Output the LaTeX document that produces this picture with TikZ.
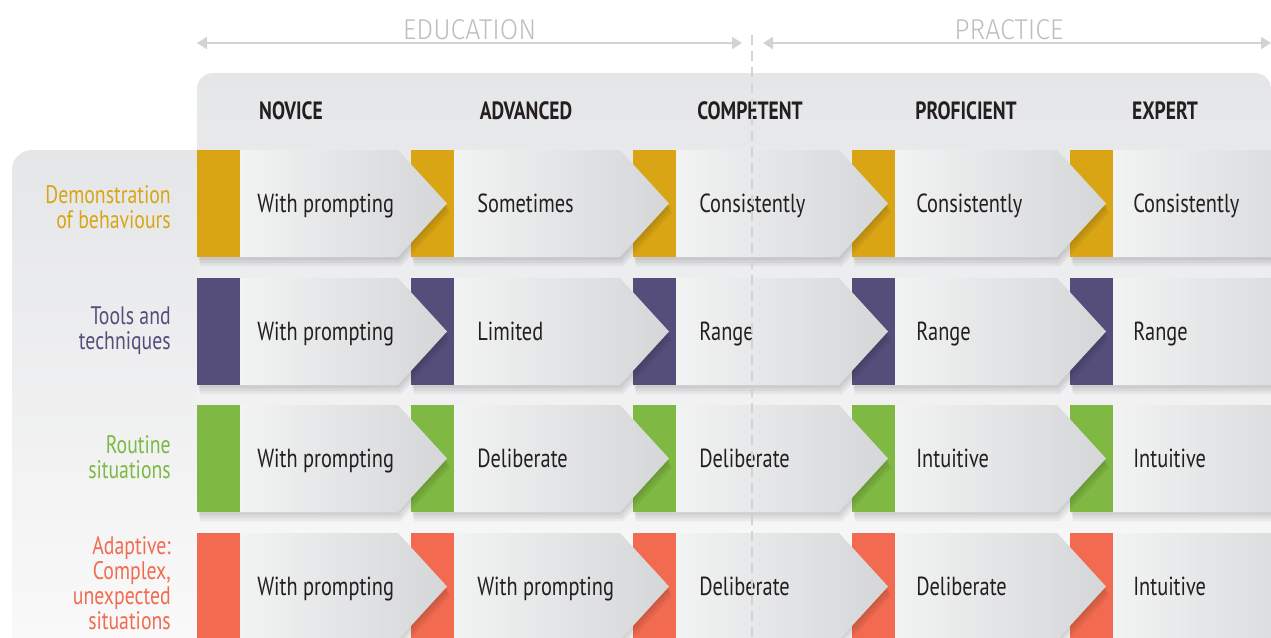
\documentclass[tikz,border=0pt]{standalone}
\usepackage{fontspec}
\setmainfont[FakeStretch=0.78]{PT Sans}
\newfontfamily\thinfont[FakeStretch=0.93]{Fira Sans Light}
\usepackage{xcolor}
\usetikzlibrary{arrows.meta}

\definecolor{behav}{HTML}{D9A514}
\definecolor{tools}{HTML}{554E7B}
\definecolor{routine}{HTML}{7FB842}
\definecolor{adapt}{HTML}{F26B50}
\definecolor{ink}{HTML}{231F20}
\definecolor{rule}{HTML}{D1D3D4}
\definecolor{faint}{HTML}{BCBEC0}
\definecolor{cellL}{HTML}{F2F3F3}
\definecolor{cellR}{HTML}{D4D6D8}
\definecolor{panelT}{HTML}{E5E6E8}
\definecolor{panelB}{HTML}{FAFAFA}

\begin{document}
\begin{tikzpicture}[x=0.75pt,y=-0.75pt,
        phase/.style={font=\thinfont\fontsize{21.5}{21.5}\selectfont, text=faint, anchor=base, inner sep=0pt},
        stage/.style={font=\bfseries\fontsize{18.75}{18.75}\selectfont, text=ink, anchor=base, inner sep=0pt},
        celltext/.style={font=\fontsize{19.6}{19.6}\selectfont, text=ink, anchor=base west, inner sep=0pt},
        rowlabel/.style={font=\fontsize{19}{18.75}\selectfont, align=right, anchor=east, inner sep=0pt},
        span/.style={draw=rule, line width=1.5pt, {Triangle[length=7.5pt,width=9pt]}-{Triangle[length=7.5pt,width=9pt]}}]
        \useasboundingbox (0,0) rectangle (1271,637);
        \clip (0,0) rectangle (1271,637);

        % grey panels behind the labels and the stages
        \shade[top color=panelT, bottom color=panelB, rounded corners=15] (12,660) -- (12,150) -- (215,150) -- (215,660) -- cycle;
        \shade[top color=panelT, bottom color=panelB, rounded corners=12] (197,660) -- (197,73) -- (1271,73) -- (1271,660) -- cycle;

        % education / practice spans
        \coordinate (eduL) at (197,43);
        \coordinate (eduR) at (742,43);
        \coordinate (pracL) at (763,43);
        \coordinate (pracR) at (1271,43);
        \draw[span] (eduL) -- (eduR);
        \draw[span] (pracL) -- (pracR);
        \node[phase] (edu) at (469.5,39) {EDUCATION};
        \node[phase] (prac) at (1009,39) {PRACTICE};

        % stage headings
        \node[stage] (novice) at (291,119) {NOVICE};
        \node[stage] (advanced) at (526,119) {ADVANCED};
        \node[stage] (competent) at (750,119) {COMPETENT};
        \node[stage] (proficient) at (966,119) {PROFICIENT};
        \node[stage] (expert) at (1165,119) {EXPERT};

        % row 1: demonstration of behaviours
        \foreach \n/\x/\nx/\tx/\txt in {5/1070/1288/1133/Consistently, 4/852/1070/916/Consistently, 3/633/852/699/Consistently, 2/411/633/477/Sometimes, 1/197/411/257/With prompting}{
            \foreach \s in {1,2,3}
                \fill[black, opacity=0.05, shift={(\s,3*\s)}] (\x,150) -- (\nx-13,150) -- (\nx+36,203.5) -- (\nx-13,257) -- (\x,257) -- cycle;
            \fill[behav] (\x,150) rectangle (\x+43,257);
            \shade[left color=cellL, right color=cellR] (\x+43,150) -- (\nx-13,150) -- (\nx+36,203.5) -- (\nx-13,257) -- (\x+43,257) -- cycle;
            \node[celltext] (demo\n) at (\tx,212.5) {\txt};
        }

        % row 2: tools and techniques
        \foreach \n/\x/\nx/\tx/\txt in {5/1070/1288/1133/Range, 4/852/1070/916/Range, 3/633/852/699/Range, 2/411/633/477/Limited, 1/197/411/257/With prompting}{
            \foreach \s in {1,2,3}
                \fill[black, opacity=0.05, shift={(\s,3*\s)}] (\x,278) -- (\nx-13,278) -- (\nx+36,331.5) -- (\nx-13,385) -- (\x,385) -- cycle;
            \fill[tools] (\x,278) rectangle (\x+43,385);
            \shade[left color=cellL, right color=cellR] (\x+43,278) -- (\nx-13,278) -- (\nx+36,331.5) -- (\nx-13,385) -- (\x+43,385) -- cycle;
            \node[celltext] (tool\n) at (\tx,340.5) {\txt};
        }

        % row 3: routine situations
        \foreach \n/\x/\nx/\tx/\txt in {5/1070/1288/1133/Intuitive, 4/852/1070/916/Intuitive, 3/633/852/699/Deliberate, 2/411/633/477/Deliberate, 1/197/411/257/With prompting}{
            \foreach \s in {1,2,3}
                \fill[black, opacity=0.05, shift={(\s,3*\s)}] (\x,405) -- (\nx-13,405) -- (\nx+36,458.5) -- (\nx-13,512) -- (\x,512) -- cycle;
            \fill[routine] (\x,405) rectangle (\x+43,512);
            \shade[left color=cellL, right color=cellR] (\x+43,405) -- (\nx-13,405) -- (\nx+36,458.5) -- (\nx-13,512) -- (\x+43,512) -- cycle;
            \node[celltext] (rout\n) at (\tx,467.5) {\txt};
        }

        % row 4: adaptive situations
        \foreach \n/\x/\nx/\tx/\txt in {5/1070/1288/1133/Intuitive, 4/852/1070/916/Deliberate, 3/633/852/699/Deliberate, 2/411/633/477/With prompting, 1/197/411/257/With prompting}{
            \foreach \s in {1,2,3}
                \fill[black, opacity=0.05, shift={(\s,3*\s)}] (\x,533) -- (\nx-13,533) -- (\nx+36,586.5) -- (\nx-13,640) -- (\x,640) -- cycle;
            \fill[adapt] (\x,533) rectangle (\x+43,640);
            \shade[left color=cellL, right color=cellR] (\x+43,533) -- (\nx-13,533) -- (\nx+36,586.5) -- (\nx-13,640) -- (\x+43,640) -- cycle;
            \node[celltext] (adap\n) at (\tx,595.5) {\txt};
        }

        % split between education and practice
        \coordinate (splitT) at (752,35);
        \coordinate (splitB) at (752,637);
        \draw[rule, line width=1.1pt, dash pattern=on 7.5pt off 4.5pt] (splitT) -- (splitB);

        % row labels
        \node[rowlabel, text=behav] (lbl1) at (171,207) {Demonstration\\of behaviours};
        \node[rowlabel, text=tools] (lbl2) at (171,330.5) {Tools and\\techniques};
        \node[rowlabel, text=routine] (lbl3) at (171,457) {Routine\\situations};
        \node[rowlabel, text=adapt] (lbl4) at (171,583) {Adaptive:\\Complex,\\unexpected\\situations};
\end{tikzpicture}
\end{document}
